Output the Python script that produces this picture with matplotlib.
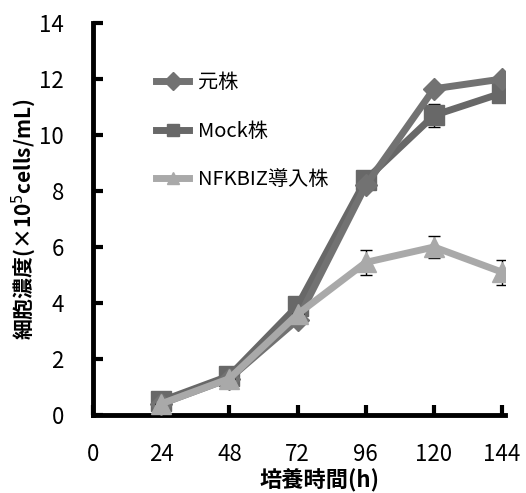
import matplotlib
matplotlib.use("Agg")
import matplotlib.pyplot as plt
from matplotlib.lines import Line2D

plt.rcParams['font.family'] = ['Noto Sans CJK JP', 'DejaVu Sans']

# Data
hours = [24, 48, 72, 96, 120, 144]
parent = [0.4, 1.3, 3.4, 8.2, 11.65, 12.0]
parent_err = [0, 0, 0, 0, 0, 0]
mock = [0.5, 1.4, 3.9, 8.4, 10.7, 11.5]
mock_err = [0, 0, 0, 0, 0.4, 0]
nfkbiz = [0.4, 1.3, 3.6, 5.45, 6.0, 5.1]
nfkbiz_err = [0, 0, 0, 0.45, 0.4, 0.45]

labels = ['元株', 'Mock株', 'NFKBIZ導入株']
colors = ['#727272', '#686868', '#a9a9a9']
markers = ['D', 's', '^']
xticks = [0, 24, 48, 72, 96, 120, 144]
yticks = [0, 2, 4, 6, 8, 10, 12, 14]

fig = plt.figure(figsize=(5.26, 4.93), dpi=100)
ax = fig.add_axes([93 / 526, 78 / 493, 412 / 526, 392 / 493])

ax.errorbar(hours, parent, yerr=parent_err, color=colors[0], lw=5, marker=markers[0],
            ms=11, ecolor='black', elinewidth=1, capsize=4, zorder=3)
ax.errorbar(hours, mock, yerr=mock_err, color=colors[1], lw=5, marker=markers[1],
            ms=14, ecolor='black', elinewidth=1, capsize=4, zorder=2)
ax.errorbar(hours, nfkbiz, yerr=nfkbiz_err, color=colors[2], lw=5, marker=markers[2],
            ms=15, ecolor='black', elinewidth=1, capsize=4, zorder=4)

ax.set_xlim(0, 145)
ax.set_ylim(0, 14)
ax.set_xticks(xticks)
ax.set_yticks(yticks)
ax.tick_params(axis='both', direction='in', width=3, length=7, labelsize=16)
ax.tick_params(axis='x', pad=20)
ax.tick_params(axis='y', pad=21)

for s in ['top', 'right']:
    ax.spines[s].set_visible(False)
for s in ['left', 'bottom']:
    ax.spines[s].set_linewidth(3.5)

ax.set_xlabel('培養時間(h)', fontsize=16, fontweight='bold')
ax.xaxis.set_label_coords(0.55, -0.135)
ax.set_ylabel('細胞濃度(×10$^5$cells/mL)', fontsize=15, fontweight='bold', labelpad=1)

handles = [Line2D([], [], color=c, lw=5, marker=m, ms=9) for c, m in zip(colors, markers)]
ax.legend(handles, labels, loc='upper left', bbox_to_anchor=(0.11, 0.92), frameon=False,
          fontsize=14.5, handlelength=1.6, handletextpad=0.45, labelspacing=1.35)

fig.savefig('out.png', dpi=100)
